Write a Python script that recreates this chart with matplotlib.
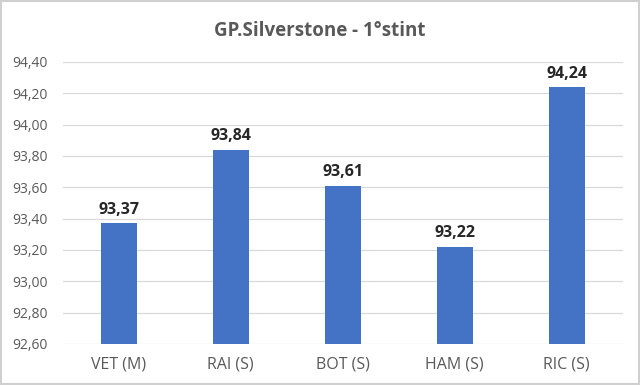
import matplotlib.pyplot as plt
from matplotlib.patches import Rectangle

# dati del primo stint
piloti = ["VET (M)", "RAI (S)", "BOT (S)", "HAM (S)", "RIC (S)"]
tempi = [93.37, 93.84, 93.61, 93.22, 94.24]
ytick_vals = [92.60, 92.80, 93.00, 93.20, 93.40, 93.60, 93.80, 94.00, 94.20, 94.40]

plt.rcParams['font.family'] = ['Open Sans', 'DejaVu Sans']
grigio = "#595959"

fig = plt.figure(figsize=(6.4, 3.85), dpi=100)
ax = fig.add_axes([0.098, 0.1065, 0.875, 0.7325])

x = range(len(piloti))
ax.bar(x, tempi, width=0.32, color="#4472C4", zorder=3)

for i, v in enumerate(tempi):
    ax.text(i, v + 0.035, ("%.2f" % v).replace(".", ","), ha="center", va="bottom",
            fontsize=11.5, fontweight="bold", color="#262626")

ax.set_ylim(92.60, 94.40)
ax.set_xlim(-0.5, len(piloti) - 0.5)
ax.set_yticks(ytick_vals)
ax.set_yticklabels([("%.2f" % t).replace(".", ",") for t in ytick_vals], fontsize=10, color=grigio)
ax.set_xticks(list(x))
ax.set_xticklabels(piloti, fontsize=11.5, color=grigio)
ax.tick_params(axis="both", length=0)
ax.tick_params(axis="y", pad=11)
ax.tick_params(axis="x", pad=9)
ax.yaxis.grid(True, color="#d9d9d9", linewidth=0.9, zorder=0)
for s in ax.spines.values():
    s.set_visible(False)

fig.text(0.5, 0.92, "GP.Silverstone - 1°stint", ha="center", va="center",
         fontsize=13.5, fontweight="bold", color=grigio)

# cornice
fig.patches.append(Rectangle((0.002, 0.003), 0.996, 0.994, transform=fig.transFigure,
                             fill=False, edgecolor="#d0d0d0", linewidth=1.5))

fig.savefig("out.png", dpi=100)
